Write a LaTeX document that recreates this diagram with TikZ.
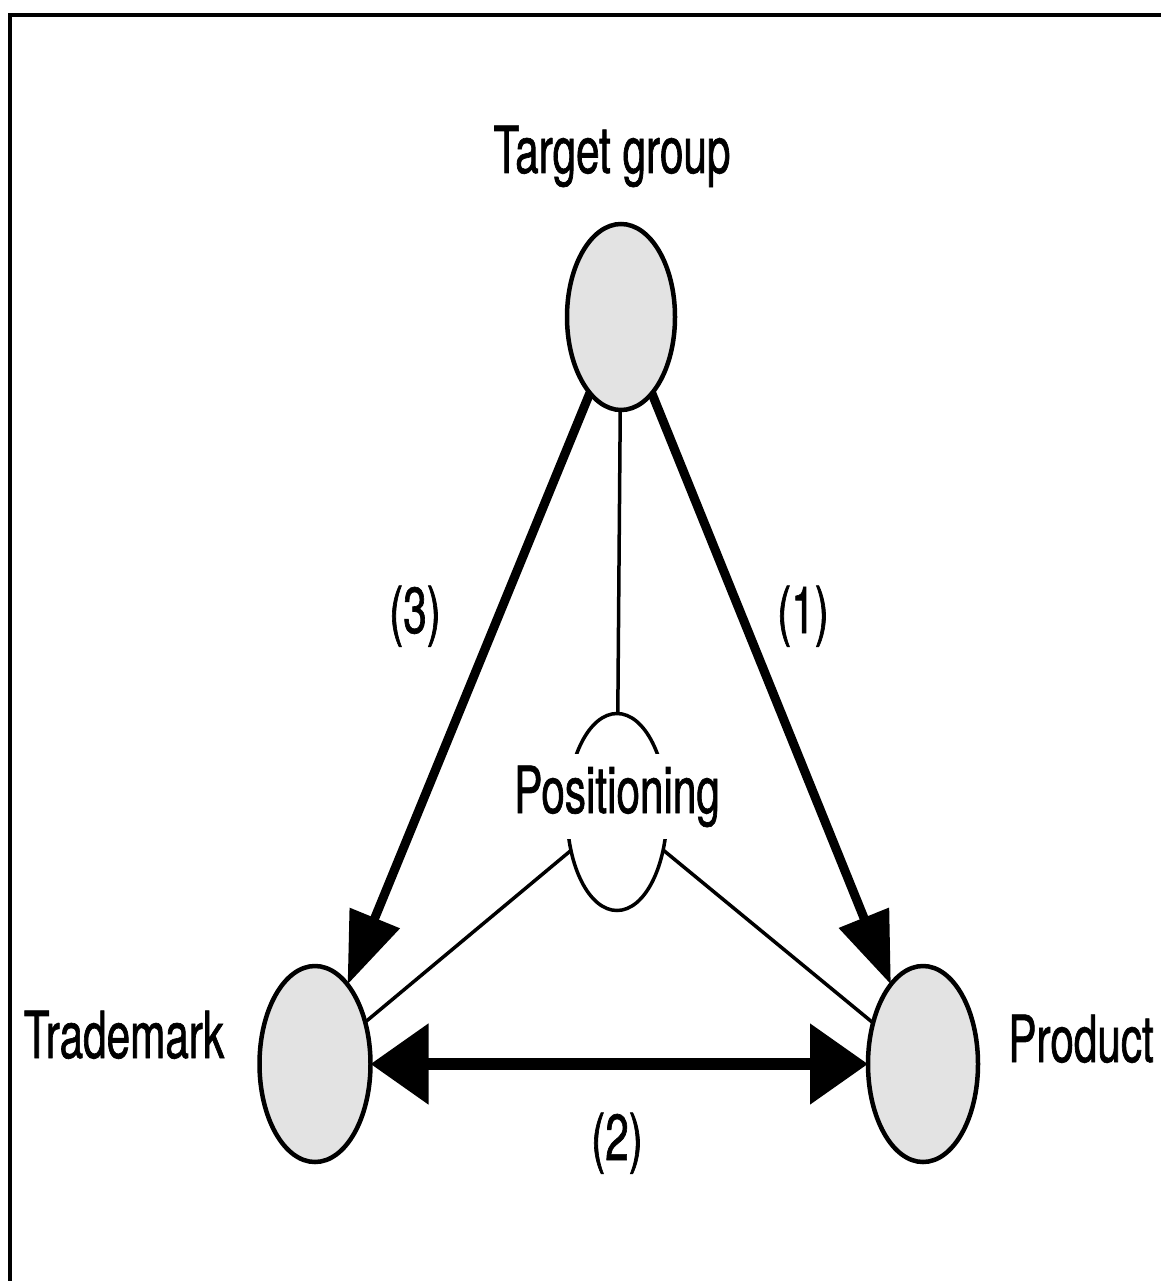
\documentclass[tikz,border=0pt]{standalone}
\usepackage{fontspec}
\setmainfont[FakeStretch=0.65,FakeBold=1]{TeX Gyre Heros}
\usetikzlibrary{arrows.meta,shapes.geometric}
\begin{document}
\begin{tikzpicture}[x=1pt,y=-1pt,
  lbl/.style={inner sep=0pt,anchor=base,font=\fontsize{65}{70}\selectfont},
  disc/.style={ellipse,draw,line width=4.5pt,fill=black!11,inner sep=0pt,outer sep=0pt},
  posell/.style={ellipse,draw,line width=3.5pt,inner sep=0pt,outer sep=0pt,minimum width=100pt,minimum height=197pt},
  bigarrow/.style={line width=9pt,-{Triangle[length=72pt,width=52pt]}},
  dblarrow/.style={line width=12pt,{Triangle[length=58pt,width=78pt]}-{Triangle[length=58pt,width=78pt]}},
  thinline/.style={line width=3.5pt}]
\useasboundingbox (0,0) rectangle (1161,1281);
% frame
\draw[line width=4pt] (10,1281) -- (10,15) -- (1161,15);
% nodes
\node[disc,minimum width=108pt,minimum height=186pt] (tg) at (621,317) {};
\node[disc,minimum width=111pt,minimum height=196pt] (tm) at (315,1064) {};
\node[disc,minimum width=110pt,minimum height=196pt] (pr) at (923,1064) {};
\node[posell] (pos) at (617,812) {};
% connectors
\draw[thinline] (tg) -- (pos);
\draw[thinline] (pos) -- (tm);
\draw[thinline] (pos) -- (pr);
\draw[bigarrow] (tg) -- (tm);
\draw[bigarrow] (tg) -- (pr);
\draw[dblarrow] (tm) -- (pr);
% texts
\node[lbl,fill=white,inner xsep=3pt,inner ysep=12pt] (postext) at (617,813) {Positioning};
\node[lbl] (tglabel) at (612,173) {Target group};
\node[lbl] (tmlabel) at (124,1058) {Trademark};
\node[lbl] (prlabel) at (1081,1062) {Product};
\node[lbl] (l3) at (415,633) {(3)};
\node[lbl] (l1) at (803,633) {(1)};
\node[lbl] (l2) at (617,1160) {(2)};
\end{tikzpicture}
\end{document}
